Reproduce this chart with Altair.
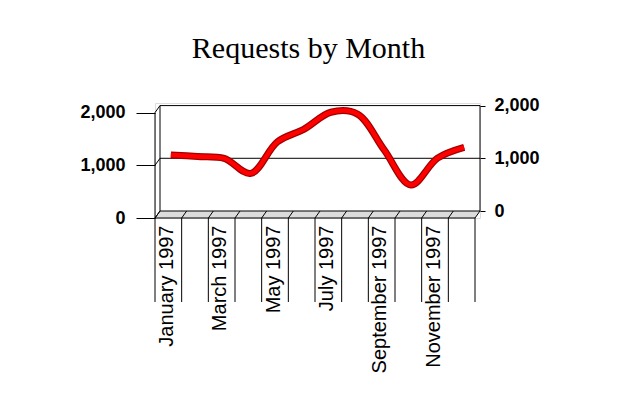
import altair as alt
import pandas as pd

# ---------------- data ----------------
MONTHS = [
    "January 1997", "February 1997", "March 1997", "April 1997",
    "May 1997", "June 1997", "July 1997", "August 1997",
    "September 1997", "October 1997", "November 1997", "December 1997",
]
REQUESTS = [1130, 1100, 1065, 780, 1380, 1620, 1940, 1905, 1225, 560, 1070, 1275]
Y_TICKS = [0, 1000, 2000]
LABEL_SLOTS = [0.5, 2.5, 4.5, 6.5, 8.5, 10.5]  # every other month is labelled
TITLE = "Requests by Month"

# ---------------- layout (pseudo 3-D frame) ----------------
W, H = 325, 115
N = len(MONTHS)
SLOT_PX = 320 / N              # front width of one month slot
DX = 5 / SLOT_PX               # depth shift, in slots
YMAX = 2182
PX_PER_UNIT = H / YMAX
DY = 7 / PX_PER_UNIT           # depth shift, in value units
Y_BELOW = -84 / PX_PER_UNIT    # how far the label separators run down

xs = alt.Scale(domain=[0, N + DX], nice=False, zero=False)
ys_front = alt.Scale(domain=[0, YMAX], nice=False, zero=False)
ys_back = alt.Scale(domain=[-DY, YMAX - DY], nice=False, zero=False)

FONT = "Liberation Sans"

# floor (grey parallelogram)
floor_df = pd.DataFrame({
    "x": [0, DX, N, N + DX],
    "y": [0, DY, DY, DY],
    "y2": [0, 0, 0, DY],
})

# front frame segments (front value scale)
seg = []
seg.append((0, 0, 0, 2000))                    # front left axis line
for v in Y_TICKS:
    seg.append((0, v, DX, v + DY))             # left wall diagonals
seg.append((0, 0, N, 0))                       # floor front edge
seg.append((DX, DY, N + DX, DY))               # floor back edge
for i in range(N + 1):
    seg.append((i, 0, i + DX, DY))             # floor dividers
    seg.append((i, 0, i, Y_BELOW))             # separators between labels
front_df = pd.DataFrame(seg, columns=["x", "y", "x2", "y2"])

# back wall segments (back value scale)
back_df = pd.DataFrame([
    (DX, 2000, N + DX, 2000),
    (DX, 1000, N + DX, 1000),
    (DX, 0, DX, 2000),
    (N + DX, 0, N + DX, 2000),
], columns=["x", "y", "x2", "y2"])

line_df = pd.DataFrame({
    "month": MONTHS,
    "x": [i + 0.5 + DX / 2 for i in range(N)],
    "y": [v + DY / 2 for v in REQUESTS],
})

# label expression: slot value -> month name (nested conditional)
label_expr = "''"
for i in reversed(range(N)):
    label_expr = f"datum.value < {i + 1} ? '{MONTHS[i]}' : ({label_expr})"

x_axis = alt.Axis(
    values=LABEL_SLOTS, labelExpr=label_expr,
    labelAngle=270, ticks=False, domain=False, grid=False,
    labelPadding=7, labelOffset=-2, labelFontSize=20, labelFont=FONT,
    labelColor="black", labelOverlap=False, title=None, orient="bottom",
)
left_axis = alt.Axis(
    orient="left", values=Y_TICKS, format=",.0f", tickSize=19, tickColor="black",
    domain=False, grid=False, labelFontSize=18, labelFontWeight="bold",
    labelFont=FONT, labelColor="black", labelPadding=11, title=None,
)
right_axis = alt.Axis(
    orient="right", values=Y_TICKS, format=",.0f", tickSize=5, tickColor="black",
    domain=False, grid=False, labelFontSize=18, labelFontWeight="bold",
    labelFont=FONT, labelColor="black", labelPadding=9, title=None,
)

X = alt.X("x:Q", scale=xs, axis=x_axis)

back = alt.Chart(back_df).mark_rule(color="black", strokeWidth=1).encode(
    x=X, x2="x2:Q",
    y=alt.Y("y:Q", scale=ys_back, axis=right_axis),
    y2="y2:Q",
)

floor = alt.Chart(floor_df).mark_area(color="#DCDCDC", opacity=1).encode(
    x=X,
    y=alt.Y("y:Q", scale=ys_front, axis=None),
    y2="y2:Q",
)

front = alt.Chart(front_df).mark_rule(color="black", strokeWidth=1).encode(
    x=X, x2="x2:Q",
    y=alt.Y("y:Q", scale=ys_front, axis=left_axis),
    y2="y2:Q",
)

line_dark = alt.Chart(line_df).mark_line(
    color="#A00000", strokeWidth=7, interpolate="catmull-rom", strokeCap="butt"
).encode(
    x=X,
    y=alt.Y("y:Q", scale=ys_front, axis=None),
)
line_red = alt.Chart(line_df).mark_line(
    color="#FF0000", strokeWidth=4.5, interpolate="catmull-rom", strokeCap="butt"
).encode(
    x=X,
    y=alt.Y("y:Q", scale=ys_front, axis=None),
)

chart = alt.layer(back, floor, front, line_dark, line_red).resolve_scale(
    y="independent"
).properties(
    width=W, height=H,
    autosize=alt.AutoSizeParams(type="none"),
    padding={"left": 147, "top": 95, "right": 132, "bottom": 170},
    title=alt.TitleParams(
        TITLE, font="Liberation Serif", fontSize=30, fontWeight="normal",
        color="black", anchor="middle", frame="group", offset=33, dx=-9,
    ),
).configure_view(stroke=None).configure(background="white")

chart.save("out.html", embed_options={"renderer": "svg", "actions": False})
